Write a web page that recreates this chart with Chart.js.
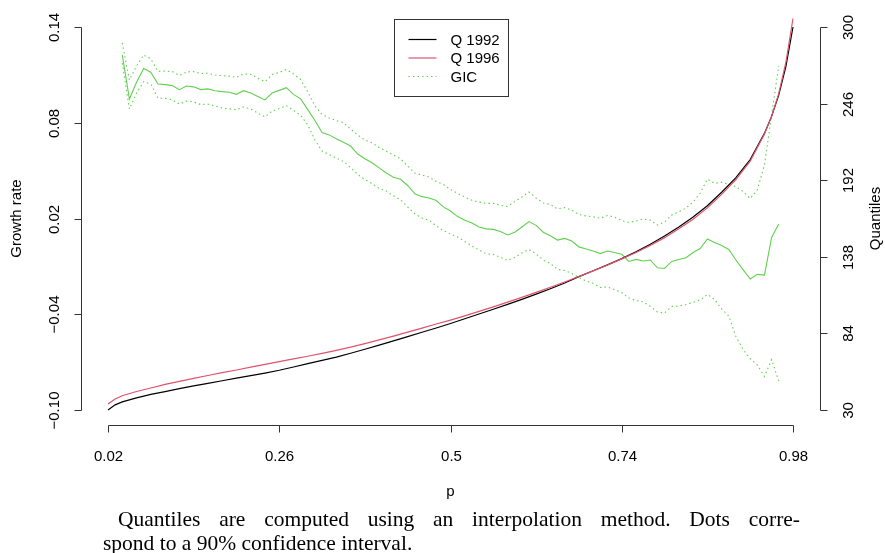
<!DOCTYPE html>
<html>
<head>
<meta charset="utf-8">
<title>Growth incidence curve</title>
<script src="https://cdn.jsdelivr.net/npm/chart.js@4.4.1/dist/chart.umd.min.js"></script>
<style>
  html, body { margin: 0; padding: 0; background: #fff; }
  #wrap { position: relative; width: 885px; height: 553px; overflow: hidden; }
  #gicChart { position: absolute; left: 0; top: 0; }
  .cap { position: absolute; font-family: "Liberation Serif", "Times New Roman", serif; font-size: 21.5px; line-height: 24px; color: #000; white-space: nowrap; }
  #cap1 { left: 118px; top: 507px; width: 682px; text-align: justify; text-align-last: justify; white-space: normal; }
  #cap2 { left: 103px; top: 531px; }
</style>
</head>
<body>
<div id="wrap">
  <canvas id="gicChart" width="885" height="553"></canvas>
  <div class="cap" id="cap1">Quantiles are computed using an interpolation method. Dots corre-</div>
  <div class="cap" id="cap2">spond to a 90% confidence interval.</div>
</div>
<script>
// quantile curves, read on the p axis
const pQ = [0.02, 0.03, 0.04, 0.06, 0.08, 0.10, 0.12, 0.14, 0.16, 0.18, 0.20, 0.22, 0.24,
  0.26, 0.28, 0.30, 0.32, 0.34, 0.36, 0.38, 0.40, 0.42, 0.44, 0.46, 0.48, 0.50, 0.52,
  0.54, 0.56, 0.58, 0.60, 0.62, 0.64, 0.66, 0.68, 0.70, 0.72, 0.74, 0.76, 0.78, 0.80,
  0.82, 0.84, 0.86, 0.88, 0.90, 0.92, 0.94, 0.95, 0.96, 0.97, 0.98];
const q1992 = [30, 33.6, 35.7, 38.5, 41, 43, 45, 47, 48.8, 50.6, 52.4, 54.2, 56,
  58, 60.3, 62.7, 65, 67.3, 70, 72.8, 75.7, 78.7, 81.7, 84.8, 87.8, 91, 94.3,
  97.7, 101, 104.5, 108, 111.7, 115.5, 119.5, 124, 128.2, 132.3, 136.7, 141.5, 146.8, 152.6,
  159, 166, 174, 183.5, 193.8, 206.5, 225, 237, 252, 272, 300];
const q1996 = [34.2, 37.8, 40, 43, 45.5, 48, 50.2, 52.3, 54.3, 56.3, 58.2, 60.2, 62.2,
  64.1, 66, 67.9, 69.9, 72, 74.3, 76.8, 79.4, 82.1, 84.9, 87.7, 90.6, 93.4, 96.4,
  99.5, 102.7, 106, 109.4, 112.9, 116.5, 120.2, 124.1, 128.1, 132.2, 136.5, 141, 146, 151.5,
  157.7, 164.5, 172.5, 182, 192.5, 205.5, 224.5, 237, 253, 275, 306];

// growth incidence curve and its 90% band
const pGIC = [0.04, 0.05, 0.06, 0.07, 0.08, 0.09, 0.10, 0.11, 0.12, 0.13,
  0.14, 0.15, 0.16, 0.17, 0.18, 0.19, 0.20, 0.21, 0.22, 0.23,
  0.24, 0.25, 0.26, 0.27, 0.28, 0.29, 0.30, 0.31, 0.32, 0.33,
  0.34, 0.35, 0.36, 0.37, 0.38, 0.39, 0.40, 0.41, 0.42, 0.43,
  0.44, 0.45, 0.46, 0.47, 0.48, 0.49, 0.50, 0.51, 0.52, 0.53,
  0.54, 0.55, 0.56, 0.57, 0.58, 0.59, 0.60, 0.61, 0.62, 0.63,
  0.64, 0.65, 0.66, 0.67, 0.68, 0.69, 0.70, 0.71, 0.72, 0.73,
  0.74, 0.75, 0.76, 0.77, 0.78, 0.79, 0.80, 0.81, 0.82, 0.83,
  0.84, 0.85, 0.86, 0.87, 0.88, 0.89, 0.90, 0.91, 0.92, 0.93,
  0.94, 0.95, 0.96];
const gic = [0.1225, 0.0949, 0.1054, 0.114, 0.1117, 0.1043, 0.1039, 0.1033, 0.1007, 0.103,
  0.1025, 0.1008, 0.1012, 0.1001, 0.0995, 0.0991, 0.0978, 0.1001, 0.0986, 0.0964,
  0.0943, 0.0986, 0.1003, 0.102, 0.0978, 0.095, 0.0882, 0.0814, 0.0739, 0.0724,
  0.070, 0.0678, 0.0654, 0.0604, 0.0575, 0.0549, 0.0517, 0.0485, 0.0459, 0.0446,
  0.0407, 0.0355, 0.0337, 0.0329, 0.0313, 0.0273, 0.0247, 0.0212, 0.0189, 0.0172,
  0.0147, 0.0135, 0.0132, 0.0119, 0.0097, 0.0114, 0.0147, 0.0181, 0.0157, 0.0114,
  0.0092, 0.0065, 0.0075, 0.0059, 0.0022, 0.0009, -0.0004, -0.0020, -0.0004, -0.0013,
  -0.0024, -0.0069, -0.0056, -0.0066, -0.0060, -0.0109, -0.0113, -0.0069, -0.0057, -0.0046,
  -0.0013, 0.0012, 0.0072, 0.0049, 0.0031, 0.0006, -0.0060, -0.0120, -0.0179, -0.0150,
  -0.0155, 0.0081, 0.0166];
const gicUpper = [0.130, 0.1068, 0.1156, 0.1225, 0.120, 0.1122, 0.1124, 0.1121, 0.1096, 0.1118,
  0.1121, 0.1108, 0.111, 0.1099, 0.1095, 0.1092, 0.1084, 0.1106, 0.1104, 0.1079,
  0.1057, 0.1102, 0.1115, 0.1134, 0.1106, 0.1071, 0.0993, 0.0905, 0.0852, 0.083,
  0.0813, 0.0801, 0.0761, 0.0723, 0.0692, 0.0675, 0.0645, 0.0621, 0.0598, 0.0574,
  0.0529, 0.0485, 0.0472, 0.046, 0.0432, 0.0413, 0.0382, 0.0357, 0.0335, 0.0314,
  0.0303, 0.0295, 0.0295, 0.0283, 0.0275, 0.0306, 0.0335, 0.0366, 0.0328, 0.0297,
  0.0288, 0.026, 0.0269, 0.0253, 0.0225, 0.0216, 0.0211, 0.0201, 0.0219, 0.0209,
  0.0187, 0.0175, 0.0184, 0.0197, 0.019, 0.0159, 0.0178, 0.0222, 0.0241, 0.0266,
  0.0303, 0.036, 0.0447, 0.042, 0.0427, 0.0413, 0.040, 0.0369, 0.0325, 0.0379,
  0.0535, 0.0849, 0.1156];
const gicLower = [0.1174, 0.0886, 0.0986, 0.1058, 0.1043, 0.0955, 0.0953, 0.0944, 0.0917, 0.0936,
  0.093, 0.0914, 0.0917, 0.0905, 0.0892, 0.0887, 0.0881, 0.0899, 0.0886, 0.0861,
  0.0836, 0.0874, 0.0889, 0.0908, 0.0877, 0.0847, 0.0786, 0.0692, 0.0623, 0.060,
  0.0579, 0.0557, 0.0519, 0.0476, 0.0444, 0.0419, 0.0389, 0.0372, 0.0342, 0.0317,
  0.0272, 0.023, 0.0203, 0.0189, 0.0153, 0.0125, 0.0103, 0.0084, 0.0056, 0.0028,
  0.0003, -0.0021, -0.0025, -0.0044, -0.0063, -0.0044, -0.0016, 0.0006, -0.0022, -0.006,
  -0.0082, -0.0119, -0.0126, -0.0145, -0.017, -0.0192, -0.0206, -0.0232, -0.0229, -0.0245,
  -0.0264, -0.0298, -0.0314, -0.0322, -0.0351, -0.0386, -0.0392, -0.0351, -0.0349, -0.0339,
  -0.0326, -0.0311, -0.0276, -0.0307, -0.0367, -0.0411, -0.0539, -0.0621, -0.0679, -0.0718,
  -0.079, -0.0684, -0.0818];

// axis ticks
const pTicks = [0.02, 0.26, 0.5, 0.74, 0.98];
const pTickLabels = ["0.02", "0.26", "0.5", "0.74", "0.98"];
const growthTicks = [-0.10, -0.04, 0.02, 0.08, 0.14];
const growthTickLabels = ["\u22120.10", "\u22120.04", "0.02", "0.08", "0.14"];
const quantileTicks = [30, 84, 138, 192, 246, 300];
const quantileTickLabels = ["30", "84", "138", "192", "246", "300"];

const BLACK = "#000000";
const RED = "#DF536B";
const GREEN = "#61D04F";
const FONT = '15px "Liberation Sans", Arial, Helvetica, sans-serif';

const pairs = (xs, ys) => xs.map((x, i) => ({ x, y: ys[i] }));

// R-style axes: line only between first and last tick, labels parallel to axis
const baseAxes = {
  id: "baseAxes",
  afterDraw(chart) {
    const { ctx, chartArea: area, scales } = chart;
    const { x, yG, yQ } = scales;
    const tick = 7;
    const snap = v => Math.round(v) + 0.5;
    const seg = (x1, y1, x2, y2) => { ctx.beginPath(); ctx.moveTo(x1, y1); ctx.lineTo(x2, y2); ctx.stroke(); };
    const upText = (txt, cx, cy) => {
      ctx.save(); ctx.translate(cx, cy); ctx.rotate(-Math.PI / 2);
      ctx.fillText(txt, 0, 0); ctx.restore();
    };

    ctx.save();
    ctx.strokeStyle = "#333";
    ctx.lineWidth = 1;
    ctx.fillStyle = "#000";
    ctx.font = FONT;
    ctx.textAlign = "center";
    ctx.textBaseline = "middle";

    // bottom
    const yb = snap(area.bottom);
    seg(snap(x.getPixelForValue(pTicks[0])), yb, snap(x.getPixelForValue(pTicks[pTicks.length - 1])), yb);
    pTicks.forEach((v, i) => {
      const px = snap(x.getPixelForValue(v));
      seg(px, yb, px, yb + tick);
      ctx.fillText(pTickLabels[i], px, yb + 31);
    });
    ctx.fillText("p", (area.left + area.right) / 2, yb + 66);

    // left: growth rate
    const xl = snap(area.left);
    seg(xl, snap(yG.getPixelForValue(growthTicks[0])), xl, snap(yG.getPixelForValue(growthTicks[growthTicks.length - 1])));
    growthTicks.forEach((v, i) => {
      const py = snap(yG.getPixelForValue(v));
      seg(xl, py, xl - tick, py);
      upText(growthTickLabels[i], xl - 27, py);
    });
    upText("Growth rate", xl - 65, (area.top + area.bottom) / 2);

    // right: quantiles
    const xr = snap(area.right);
    seg(xr, snap(yQ.getPixelForValue(quantileTicks[0])), xr, snap(yQ.getPixelForValue(quantileTicks[quantileTicks.length - 1])));
    quantileTicks.forEach((v, i) => {
      const py = snap(yQ.getPixelForValue(v));
      seg(xr, py, xr + tick, py);
      upText(quantileTickLabels[i], xr + 28, py);
    });
    upText("Quantiles", xr + 55, (area.top + area.bottom) / 2);
    ctx.restore();
  }
};

// boxed legend at the top of the plot
const boxLegend = {
  id: "boxLegend",
  afterDraw(chart) {
    const { ctx, chartArea: area } = chart;
    const items = chart.data.datasets
      .filter(d => d.legendEntry)
      .sort((a, b) => a.legendRank - b.legendRank);
    const w = 114, h = 77;
    const left = Math.round((area.left + area.right) / 2 - w / 2) + 0.5;
    const top = Math.round(area.top + 7) + 0.5;
    ctx.save();
    ctx.strokeStyle = "#333";
    ctx.lineWidth = 1;
    ctx.strokeRect(left, top, w, h);
    ctx.font = FONT;
    ctx.textBaseline = "middle";
    ctx.textAlign = "left";
    ctx.fillStyle = "#000";
    items.forEach((d, i) => {
      const y = top + 20 + i * 18.5;
      ctx.strokeStyle = d.borderColor;
      ctx.lineWidth = d.borderWidth;
      ctx.setLineDash(d.borderDash || []);
      ctx.beginPath(); ctx.moveTo(left + 14, y); ctx.lineTo(left + 42, y); ctx.stroke();
      ctx.setLineDash([]);
      ctx.fillText(d.legendEntry, left + 56, y + 1);
    });
    ctx.restore();
  }
};

const dotted = [1.5, 3];

new Chart(document.getElementById("gicChart"), {
  type: "line",
  data: {
    datasets: [
      { label: "Q 1996", legendEntry: "Q 1996", legendRank: 2, data: pairs(pQ, q1996), yAxisID: "yQ",
        borderColor: RED, borderWidth: 1.2 },
      { label: "Q 1992", legendEntry: "Q 1992", legendRank: 1, data: pairs(pQ, q1992), yAxisID: "yQ",
        borderColor: BLACK, borderWidth: 1.2 },
      { label: "GIC", data: pairs(pGIC, gic), yAxisID: "yG",
        borderColor: GREEN, borderWidth: 1.1 },
      { label: "GIC upper", legendEntry: "GIC", legendRank: 3, data: pairs(pGIC, gicUpper), yAxisID: "yG",
        borderColor: GREEN, borderWidth: 1.1, borderDash: dotted },
      { label: "GIC lower", data: pairs(pGIC, gicLower), yAxisID: "yG",
        borderColor: GREEN, borderWidth: 1.1, borderDash: dotted }
    ]
  },
  options: {
    responsive: false,
    animation: false,
    devicePixelRatio: 1,
    layout: { padding: { left: 80.6, right: 64.6, top: 11.7, bottom: 127.7 } },
    elements: { point: { radius: 0 }, line: { tension: 0, fill: false } },
    plugins: { legend: { display: false }, tooltip: { enabled: false } },
    scales: {
      x: { type: "linear", min: -0.0184, max: 1.0184, display: false },
      yG: { type: "linear", position: "left", min: -0.1096, max: 0.1496, display: false },
      yQ: { type: "linear", position: "right", min: 19.2, max: 310.8, display: false }
    }
  },
  plugins: [baseAxes, boxLegend]
});
</script>
</body>
</html>
